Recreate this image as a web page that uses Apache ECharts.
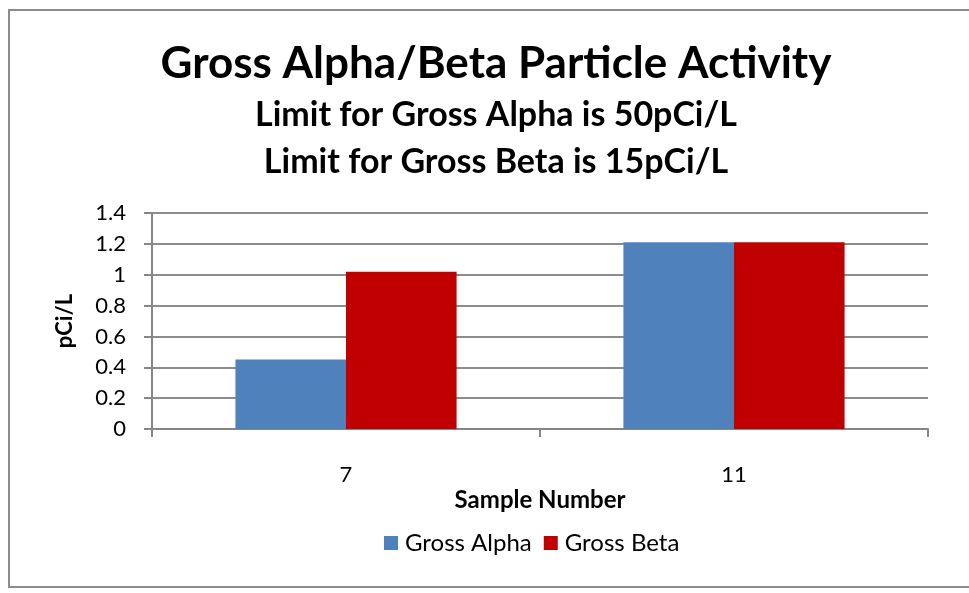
<!DOCTYPE html>
<html><head><meta charset="utf-8">
<script src="https://cdn.jsdelivr.net/npm/echarts@6/dist/echarts.min.js"></script>
<style>html,body{margin:0;padding:0;background:#fff}#c{width:969px;height:593px}</style>
</head><body><div id="c"></div>
<script>
const categories = ['7', '11'];
const grossAlpha = [0.45, 1.21];
const grossBeta = [1.02, 1.21];
const yTicks = { min: 0, max: 1.4, interval: 0.2 };

const FONT = 'Lato';
const chart = echarts.init(document.getElementById('c'));
chart.setOption({
  backgroundColor: '#fff',
  animation: false,
  textStyle: { fontFamily: FONT },
  graphic: [{
    type: 'rect', shape: { x: 9, y: 10, width: 1000, height: 577 },
    style: { fill: 'none', stroke: '#8c8c8c', lineWidth: 2 }, silent: true, z: -1
  }],
  title: [
    { text: 'Gross Alpha/Beta Particle Activity', left: 491, textAlign: 'center', top: 37,
      textStyle: { fontFamily: FONT, fontSize: 44, fontWeight: 'bold', color: '#000' } },
    { text: 'Limit for Gross Alpha is 50pCi/L', left: 491, textAlign: 'center', top: 93,
      textStyle: { fontFamily: FONT, fontSize: 34, fontWeight: 'bold', color: '#000' } },
    { text: 'Limit for Gross Beta is 15pCi/L', left: 491, textAlign: 'center', top: 140,
      textStyle: { fontFamily: FONT, fontSize: 34, fontWeight: 'bold', color: '#000' } }
  ],
  legend: {
    data: ['Gross Alpha', 'Gross Beta'], left: 379, top: 526,
    itemWidth: 14, itemHeight: 14, itemGap: 12, icon: 'rect',
    textStyle: { fontFamily: FONT, fontSize: 24, color: '#000', padding: [0, 0, 0, 2] }
  },
  grid: { left: 152, right: 41, top: 213, bottom: 164, containLabel: false },
  xAxis: {
    type: 'category', data: categories,
    name: 'Sample Number', nameLocation: 'middle', nameGap: 59,
    nameTextStyle: { fontFamily: FONT, fontSize: 24, fontWeight: 'bold', color: '#000' },
    axisLine: { lineStyle: { color: '#868686', width: 2 } },
    axisTick: { show: true, alignWithLabel: false, length: 8, lineStyle: { color: '#868686', width: 2 } },
    axisLabel: { margin: 35, fontFamily: FONT, fontSize: 22, color: '#000' }
  },
  yAxis: {
    type: 'value', min: yTicks.min, max: yTicks.max, interval: yTicks.interval,
    name: 'pCi/L', nameLocation: 'middle', nameGap: 76, nameRotate: 90,
    nameTextStyle: { fontFamily: FONT, fontSize: 22, fontWeight: 'bold', color: '#000' },
    axisLine: { show: true, lineStyle: { color: '#868686', width: 2 } },
    axisTick: { show: true, length: 8, lineStyle: { color: '#868686', width: 2 } },
    axisLabel: { margin: 26, fontFamily: FONT, fontSize: 22, color: '#000' },
    splitLine: { show: true, lineStyle: { color: '#8c8c8c', width: 2 } }
  },
  series: [
    { name: 'Gross Alpha', type: 'bar', data: grossAlpha, barGap: '0%', barCategoryGap: '43%',
      itemStyle: { color: '#4F81BD' } },
    { name: 'Gross Beta', type: 'bar', data: grossBeta, barGap: '0%', barCategoryGap: '43%',
      itemStyle: { color: '#C00000' } }
  ]
});
</script></body></html>
